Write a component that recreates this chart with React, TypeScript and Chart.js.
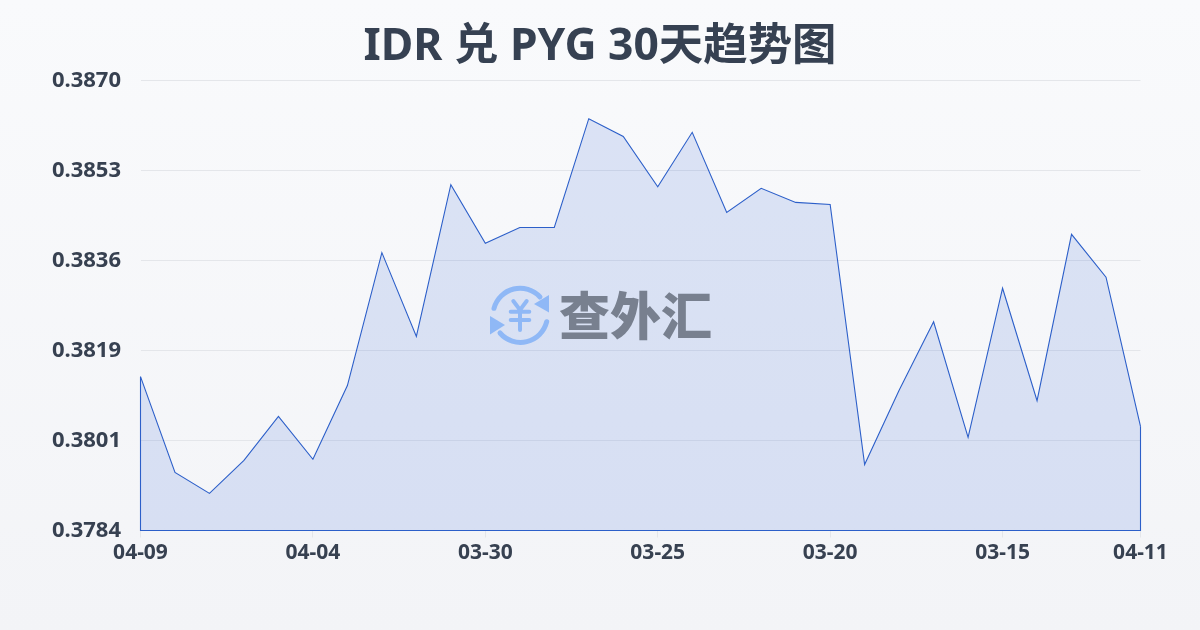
import React, { useEffect, useRef } from "react";
import { Chart, registerables } from "chart.js";

Chart.register(...registerables);

const titleText = "IDR 兑 PYG 30天趋势图";
const watermarkText = "查外汇";
const categories = [
  "04-09", "04-08", "04-07", "04-06", "04-05", "04-04", "04-03", "04-02", "04-01", "03-31",
  "03-30", "03-29", "03-28", "03-27", "03-26", "03-25", "03-24", "03-23", "03-22", "03-21",
  "03-20", "03-19", "03-18", "03-17", "03-16", "03-15", "03-14", "03-13", "03-12", "04-11",
];
const rates = [
  0.38137, 0.37954, 0.37914, 0.37977, 0.38061, 0.37979, 0.3812, 0.38374, 0.38214, 0.38504,
  0.38392, 0.38422, 0.38422, 0.3863, 0.38596, 0.385, 0.38604, 0.38451, 0.38497, 0.3847,
  0.38466, 0.37969, 0.38111, 0.38242, 0.38021, 0.38306, 0.38091, 0.38409, 0.38327, 0.38042,
];
const xTickIndexes = [0, 5, 10, 15, 20, 25, 29];
const yTicks = [0.37843, 0.38015, 0.38187, 0.38359, 0.38531, 0.38703];

const LINE = "#2c5fc9";
const GRID = "#e4e6ea";
const FONT = '"Noto Sans", "Noto Sans CJK SC", sans-serif';

const outlinePlugin = {
  id: "outline",
  beforeDraw(chart: any) {
    // Centre the title on the whole canvas rather than on the padded box.
    if (chart.titleBlock) {
      chart.titleBlock.left = 0;
      chart.titleBlock.right = chart.width;
    }
  },
  afterDatasetsDraw(chart: any) {
    const { ctx, chartArea, scales } = chart;
    const first = scales.y.getPixelForValue(rates[0]);
    const last = scales.y.getPixelForValue(rates[rates.length - 1]);
    ctx.save();
    ctx.strokeStyle = LINE;
    ctx.lineWidth = 1.1;
    ctx.beginPath();
    ctx.moveTo(chartArea.left, first);
    ctx.lineTo(chartArea.left, chartArea.bottom);
    ctx.lineTo(chartArea.right, chartArea.bottom);
    ctx.lineTo(chartArea.right, last);
    ctx.stroke();
    ctx.restore();
  },
};

export default function App() {
  const ref = useRef<HTMLCanvasElement | null>(null);

  useEffect(() => {
    document.body.style.margin = "0";
    const chart = new Chart(ref.current as HTMLCanvasElement, {
      type: "line",
      data: {
        labels: categories,
        datasets: [
          {
            data: rates,
            borderColor: LINE,
            borderWidth: 1.1,
            backgroundColor: "rgba(45,95,215,0.14)",
            fill: "start",
            pointRadius: 0,
            tension: 0,
          },
        ],
      },
      plugins: [outlinePlugin],
      options: {
        responsive: false,
        animation: false,
        layout: { padding: { right: 59.5, left: 0, top: 0, bottom: 0 } },
        plugins: {
          legend: { display: false },
          tooltip: { enabled: false },
          title: {
            display: true,
            text: titleText,
            color: "#364152",
            font: { family: FONT, size: 44.4, weight: "bold", lineHeight: 1.2 },
            padding: { top: 21, bottom: 6.22 },
          },
        },
        scales: {
          x: {
            type: "category",
            offset: false,
            grid: { drawOnChartArea: false, drawTicks: true, tickLength: 7, tickColor: GRID },
            border: { display: false },
            afterBuildTicks(scale: any) {
              scale.ticks = xTickIndexes.map((i) => ({ value: i, label: categories[i] }));
            },
            afterFit(scale: any) {
              scale.height = 99.5;
            },
            ticks: {
              autoSkip: false,
              maxRotation: 0,
              color: "#374151",
              padding: 3,
              font: { family: FONT, size: 21, weight: "bold" },
              callback(this: any, value: any) {
                return categories[value];
              },
            },
          },
          y: {
            min: yTicks[0],
            max: yTicks[yTicks.length - 1],
            grid: { color: GRID, lineWidth: 1, drawTicks: false },
            border: { display: false },
            afterBuildTicks(scale: any) {
              scale.ticks = yTicks.map((v) => ({ value: v }));
            },
            afterFit(scale: any) {
              scale.width = 140.5;
            },
            ticks: {
              color: "#374151",
              padding: 19.5,
              font: { family: FONT, size: 22, weight: "bold" },
              callback(value: any) {
                return Number(value).toFixed(4);
              },
            },
          },
        },
      },
    } as any);
    return () => chart.destroy();
  }, []);

  return (
    <div
      style={{
        position: "relative",
        width: 1200,
        height: 630,
        overflow: "hidden",
        background: "linear-gradient(180deg, #f9fafc 0%, #f3f4f7 100%)",
      }}
    >
      <canvas ref={ref} width={1200} height={630} style={{ display: "block" }} />
      <svg
        width={64}
        height={64}
        viewBox="0 0 64 64"
        style={{ position: "absolute", left: 488, top: 283 }}
      >
        <g fill="none" stroke="#8fb8f6" strokeLinecap="round">
          <path d="M6 25.3 A27 27 0 0 1 52 14" strokeWidth={5} />
          <path d="M58.7 38.7 A27 27 0 0 1 12 50" strokeWidth={5} />
          <path d="M25.3 18 L32 27 L38.7 18 M32 27 V47 M22.7 28.7 H41.3 M22.7 37 H41.3" strokeWidth={4} />
        </g>
        <path d="M61 12 L61 29.5 L46 21 Z" fill="#8fb8f6" />
        <path d="M2 33 L2 51.5 L17 42 Z" fill="#8fb8f6" />
      </svg>
      <div
        style={{
          position: "absolute",
          left: 559,
          top: 277,
          fontFamily: '"Noto Sans CJK SC", sans-serif',
          fontWeight: 900,
          fontSize: 51,
          lineHeight: "72px",
          color: "#78808f",
          whiteSpace: "nowrap",
        }}
      >
        {watermarkText}
      </div>
    </div>
  );
}
